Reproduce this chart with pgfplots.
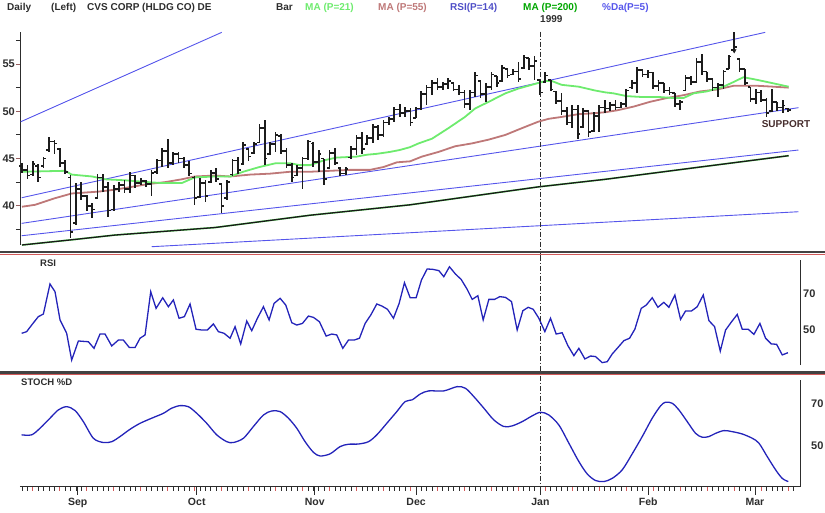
\documentclass[border=0pt]{standalone}
\usepackage{fontspec}
\setmainfont{Liberation Sans}
\usepackage{pgfplots}
\usepackage{pgfplotstable}
\pgfplotsset{compat=1.18}

\definecolor{trend}{RGB}{85,85,235}
\definecolor{maA}{RGB}{110,235,110}
\definecolor{maB}{RGB}{190,120,120}
\definecolor{maC}{RGB}{25,25,25}
\definecolor{osc}{RGB}{35,35,185}
\definecolor{barc}{RGB}{28,28,28}
\definecolor{ink}{RGB}{45,45,45}
\definecolor{divred}{RGB}{210,90,90}
\definecolor{supc}{RGB}{70,45,45}

% day index d: pixel x = 22 + 5.394 d
\pgfplotstableread{
d hi lo op cl
0 44.5 43.5 44.2 43.8
1 44.3 42.8 43.8 43.2
2 44.7 43.1 43.3 44.4
3 44.4 42.5 44.2 43.0
4 45.2 44.0 44.2 45.0
5 47.3 45.7 45.9 46.8
6 47.0 45.5 46.8 46.6
7 46.1 44.1 46.0 44.5
8 44.8 43.4 44.5 43.6
9 43.3 36.6 43.0 37.2
10 42.4 38.0 38.2 41.8
11 42.5 40.6 41.8 41.0
12 41.1 39.5 41.0 40.0
13 40.3 38.7 40.0 39.6
14 43.4 40.7 40.8 43.0
15 43.4 41.5 43.0 42.0
16 42.5 38.8 42.0 39.5
17 42.2 39.5 39.6 41.8
18 42.5 41.5 41.8 42.2
19 42.7 41.3 42.2 41.8
20 43.6 41.3 41.8 43.2
21 43.3 41.9 43.2 42.4
22 42.9 42.2 42.4 42.6
23 42.7 42.0 42.6 42.3
24 43.8 41.0 42.3 43.5
25 45.0 43.4 43.6 44.8
26 46.1 44.1 44.8 45.8
27 47.1 44.0 45.8 44.5
28 45.7 44.3 44.5 45.5
29 45.7 44.5 45.5 45.0
30 45.2 44.0 45.0 44.3
31 44.7 43.1 44.3 43.4
32 43.1 40.1 43.0 40.8
33 42.9 40.8 40.9 42.4
34 42.7 40.4 42.4 41.0
35 43.8 42.4 42.5 43.5
36 44.0 42.5 43.5 42.8
37 42.4 39.2 42.3 40.0
38 42.7 40.6 40.8 42.5
39 45.0 43.2 43.3 44.8
40 45.2 43.4 44.8 43.8
41 46.8 44.3 44.4 46.4
42 46.1 44.7 46.0 45.2
43 46.8 45.5 45.6 46.5
44 48.7 46.6 46.7 48.2
45 49.1 44.3 48.2 45.0
46 46.8 45.4 45.5 46.5
47 47.8 45.7 46.5 47.5
48 47.6 45.5 47.4 45.8
49 46.1 44.0 45.8 44.3
50 44.5 42.5 44.3 43.0
51 44.3 43.1 43.2 44.0
52 45.2 41.8 44.0 45.0
53 47.0 44.8 45.0 46.8
54 46.8 44.1 46.6 44.6
55 45.9 43.6 44.6 45.5
56 45.0 42.2 45.0 42.8
57 45.9 44.0 44.0 45.6
58 46.1 44.3 45.6 44.5
59 44.1 43.1 44.0 43.4
60 44.1 43.3 43.4 43.9
61 46.3 45.0 45.1 46.0
62 47.5 45.4 46.0 47.2
63 47.8 45.5 47.2 46.0
64 47.5 46.4 46.5 47.2
65 48.7 46.6 47.2 48.3
66 48.5 47.0 48.3 47.5
67 49.1 47.3 47.5 48.8
68 49.4 48.5 48.8 49.2
69 50.5 48.9 49.2 50.2
70 50.8 49.4 50.2 49.8
71 50.5 49.4 49.8 50.0
72 50.3 48.4 50.0 48.8
73 50.5 49.3 49.3 50.3
74 52.1 50.1 50.3 51.8
75 52.8 50.7 51.8 52.5
76 53.3 51.7 52.5 53.0
77 53.5 52.2 53.0 52.6
78 53.1 52.2 52.6 52.9
79 53.5 52.4 52.9 53.2
80 53.0 52.1 53.0 52.3
81 52.8 51.7 52.3 52.0
82 52.2 50.3 52.0 50.8
83 52.2 50.1 50.8 52.0
84 54.2 51.5 52.0 53.8
85 53.3 51.4 53.2 51.8
86 53.0 51.0 51.8 52.6
87 54.2 52.2 52.6 53.9
88 53.7 52.6 53.7 53.0
89 54.9 53.1 53.2 54.6
90 54.5 53.5 54.5 53.8
91 54.5 53.8 53.9 54.2
92 55.2 53.1 54.2 53.4
93 56.0 54.5 54.6 55.7
94 55.6 54.4 55.6 54.8
95 55.8 53.3 54.8 55.3
96 53.3 51.7 53.3 52.0
97 54.2 53.0 53.1 53.8
98 53.3 52.1 53.3 52.3
99 52.1 50.8 52.1 51.1
100 51.9 49.6 51.1 50.0
101 50.5 48.5 50.0 48.8
102 50.7 48.2 48.8 50.2
103 50.7 47.1 50.2 47.6
104 50.3 48.2 48.3 50.0
105 50.1 47.3 50.0 47.8
106 49.9 47.8 47.9 49.5
107 50.7 47.8 49.5 50.4
108 51.2 49.8 50.4 50.3
109 51.0 50.0 50.3 50.7
110 51.2 50.1 50.7 50.4
111 51.0 50.3 50.4 50.8
112 52.4 50.5 50.8 52.2
113 53.3 52.4 52.5 53.0
114 54.7 51.9 53.0 54.4
115 54.5 53.6 54.4 53.9
116 54.4 53.5 53.9 54.1
117 54.2 52.4 54.1 52.7
118 53.3 52.1 52.7 53.0
119 53.0 51.9 53.0 52.2
120 52.6 51.7 52.2 52.0
121 51.9 50.5 51.9 50.8
122 51.2 50.1 50.8 51.0
123 53.8 52.1 52.2 53.5
124 53.7 52.8 53.5 53.1
125 55.6 53.0 53.1 55.2
126 56.1 53.8 55.2 54.2
127 54.2 53.1 54.2 53.4
128 53.5 52.1 53.4 52.5
129 53.0 51.5 52.5 52.8
130 54.4 52.4 52.8 54.2
131 56.0 54.5 54.5 55.8
132 58.4 56.3 56.5 56.8
133 55.6 54.2 55.5 54.5
134 54.5 52.8 54.5 53.0
135 52.6 51.0 52.6 51.3
136 52.4 50.8 51.3 52.0
137 52.2 51.0 52.0 51.2
138 51.4 49.4 51.2 49.8
139 52.4 49.9 50.0 51.0
140 51.0 50.0 51.0 50.4
141 51.2 49.8 50.4 50.6
142 50.3 49.9 50.3 50.1
}\bars

\newcommand{\hf}{\fontsize{10}{12}\selectfont\bfseries}
\newcommand{\tf}{\fontsize{11}{12}\selectfont\bfseries}

\pgfplotsset{
  panel/.style={scale only axis, width=780pt, xmin=-0.37, xmax=144.2,
    clip=false, /pgf/number format/assume math mode=true,
    ticklabel style={font=\tf, text=ink},
    axis line style={ink, line width=0.8pt, -}},
  janline/.style={ink, line width=0.7pt, dash pattern=on 5pt off 2pt on 1pt off 2pt},
  tl/.style={trend, line width=0.9pt},
  % invisible main plot; only the error bars are drawn
  barplot/.style={only marks, mark=text, text mark={}},
}

\begin{document}
\begin{tikzpicture}[x=1pt, y=1pt]
\path[use as bounding box] (0,0) rectangle (825,512);

% ===== price panel =====
\begin{axis}[panel, at={(20pt,267pt)}, anchor=south west, height=213.3pt,
  ymin=35.85, ymax=58.42,
  axis x line=none, axis y line*=left,
  ytick={40,45,50,55}, minor ytick={37.5,42.5,47.5,52.5,57.5},
  tick align=outside, major tick length=4pt, minor tick length=4pt,
  major tick style={maB!80!black, line width=0.8pt},
  minor tick style={ink, line width=0.8pt},
  yticklabel style={anchor=east, inner sep=1pt},
]
% trend lines
\addplot[tl] coordinates {(-0.24,48.89) (37.02,58.35)};
\addplot[tl] coordinates {(-0.06,40.85) (137.75,58.35)};
\addplot[tl] coordinates {(-0.06,38.14) (143.92,50.38)};
\addplot[tl] coordinates {(-0.06,36.83) (143.92,45.90)};
\addplot[tl] coordinates {(24.05,35.67) (143.92,39.37)};

% MA 200
\addplot[maA, line width=1.7pt] coordinates {(0,35.85) (9.2,36.4) (17.2,36.9) (26.5,37.3) (35.8,37.7) (53.4,39.0) (71.9,40.1) (95.7,42.0) (108.1,42.8) (125.7,44.1) (142.1,45.3)};
\addplot[maC, line width=1.3pt] coordinates {(0,35.85) (9.2,36.4) (17.2,36.9) (26.5,37.3) (35.8,37.7) (53.4,39.0) (71.9,40.1) (95.7,42.0) (108.1,42.8) (125.7,44.1) (142.1,45.3)};

% MA 55
\addplot[maB, line width=1.8pt] coordinates {
(0,39.9) (2.4,40.1) (6.1,40.8) (9.2,41.3) (14.2,41.5) (17.2,41.7) (20.3,42.0)
(23.4,42.3) (26.5,42.5) (29.6,42.8) (32,43.1) (35.8,43.2) (38.6,43.1) (42.3,43.3)
(46,43.4) (49.7,43.6) (53.4,43.6) (57.1,43.7) (60.8,43.8) (64.5,43.8) (67,44.1)
(69.5,44.6) (71.9,44.7) (74.1,45.2) (77.2,45.7) (80.3,46.3) (83.4,46.6) (86.5,47.0)
(89.6,47.5) (92.6,48.2) (95.7,48.9) (97.6,49.2) (100,49.4) (103.2,49.7) (106.2,49.8)
(108.1,49.9) (110.3,50.1) (113.4,50.5) (116.4,51.0) (119.5,51.4) (122.6,51.7)
(125.7,52.1) (128.8,52.3) (131.9,52.7) (133.7,52.7) (136.2,52.7) (139.3,52.6) (142.1,52.5)};

% MA 21
\addplot[maA, line width=1.8pt] coordinates {
(0,43.6) (8,43.7) (9.2,43.3) (13,43.1) (15.4,42.8) (19,42.7) (23.4,42.5) (26,42.4)
(29.6,42.4) (30.8,42.7) (32,43.0) (35.8,43.1) (38.6,43.1) (41,43.6) (44,44.1) (47,44.5)
(49.7,44.5) (51.5,44.3) (53.4,44.3) (55.9,44.8) (58.3,45.1) (62,45.2) (63.9,45.4)
(65.8,45.5) (68.2,45.7) (70,45.9) (71.9,46.2) (73.5,46.6) (76,47.1) (79,48.2) (82.1,49.4)
(84,50.3) (86.5,51.0) (89.6,51.9) (92,52.4) (94.5,52.8) (97,53.2) (98.2,53.2) (100,52.8)
(103.2,52.6) (106.2,52.2) (108.1,52.0) (109.6,51.9) (112.1,51.6) (115.2,51.5) (118.3,51.5)
(120.8,51.4) (122.6,51.4) (124.5,51.9) (126.9,52.1) (130,52.6) (131.9,53.1) (133.7,53.6)
(135.6,53.4) (138.1,53.1) (140.5,52.8) (142.1,52.6)};

% price bars: high-low with close tick on the right, open tick on the left
\addplot[barplot,
  error bars/.cd, y dir=both, y explicit, x dir=plus, x fixed=0.5,
  error mark=none, error bar style={barc, line width=1.7pt}]
  table[x=d, y=cl, y error plus expr=\thisrow{hi}-\thisrow{cl},
        y error minus expr=\thisrow{cl}-\thisrow{lo}] {\bars};
\addplot[barplot,
  error bars/.cd, x dir=minus, x fixed=0.5,
  error mark=none, error bar style={barc, line width=1.7pt}]
  table[x=d, y=op] {\bars};
\addplot[barc, only marks, mark=triangle*, mark size=2.2pt,
  mark options={rotate=180}] coordinates {(132,56.4)};

\addplot[janline] coordinates {(96.09,58.42) (96.09,34.7)};
\node[font=\hf, text=supc] at (axis cs:141.6,48.7) {SUPPORT};
\end{axis}

% ===== RSI panel =====
\begin{axis}[panel, at={(20pt,147pt)}, anchor=south west, height=105pt,
  ymin=30.9, ymax=88.2,
  axis x line=none, axis y line*=right,
  ytick={50,70}, major tick length=0pt,
  yticklabel style={anchor=west, inner sep=1pt, xshift=2pt},
]
\addplot[osc, line width=1.3pt] coordinates {
(-0.06,48.2) (0.87,49.1) (1.79,52.7) (3.03,57.3) (3.96,58.7) (5.19,75.1) (6.12,70.9)
(7.05,55.5) (8.28,48.2) (9.21,33.6) (10.45,44.0) (12.30,43.6) (13.35,40.0) (14.46,47.8)
(15.39,47.8) (16.63,41.3) (17.86,44.5) (18.79,44.5) (19.90,40.4) (20.95,40.4) (21.88,45.5)
(22.81,47.3) (23.86,70.9) (24.85,61.8) (26.08,67.6) (27.13,62.7) (28.06,66.4) (29.11,56.4)
(30.10,57.3) (31.15,64.2) (32.26,50.4) (33.31,50.0) (34.36,50.0) (35.48,53.3) (36.40,49.1)
(37.45,48.2) (38.57,45.5) (39.49,51.8) (40.54,42.4) (41.66,54.9) (42.58,49.6) (43.63,56.4)
(44.75,62.7) (45.80,55.5) (46.72,64.5) (47.84,67.3) (48.89,63.6) (50.00,54.0) (50.93,52.7)
(51.98,53.6) (53.09,57.6) (54.02,56.9) (55.13,54.5) (56.37,46.7) (57.42,47.8) (58.34,47.3)
(59.46,40.0) (60.51,44.5) (61.56,44.5) (62.55,45.5) (63.60,53.6) (64.65,58.2) (65.76,64.2)
(66.69,63.1) (67.74,61.3) (68.85,56.4) (69.90,64.5) (70.89,75.8) (71.94,67.6) (73.05,67.6)
(74.04,77.3) (75.09,83.3) (76.14,83.1) (77.26,82.4) (78.18,79.1) (79.23,84.5) (80.35,80.5)
(81.40,77.6) (82.51,72.2) (83.44,66.7) (84.49,68.7) (85.48,55.5) (86.53,66.7) (87.58,66.7)
(88.57,68.2) (89.62,67.8) (90.73,65.5) (91.78,50.0) (92.83,60.5) (93.82,62.4) (94.75,61.3)
(95.80,56.4) (96.91,49.1) (97.96,56.4) (99.01,47.8) (100.12,48.5) (101.17,41.5) (102.29,36.0)
(103.21,40.0) (104.33,34.2) (105.38,35.8) (106.30,35.5) (107.54,32.2) (108.47,32.7)
(109.39,36.9) (110.44,40.4) (111.56,44.2) (112.61,45.5) (113.60,50.5) (114.77,61.8)
(115.70,63.6) (116.81,67.6) (117.86,62.4) (118.97,65.1) (119.90,62.4) (121.01,69.1)
(122.06,55.8) (122.99,60.4) (124.10,60.4) (125.15,62.7) (126.27,69.1) (127.32,55.1)
(128.37,51.8) (129.42,38.5) (130.41,50.0) (131.52,54.5) (132.57,58.5) (133.50,50.4)
(134.61,50.4) (135.66,47.6) (136.77,53.6) (137.82,45.5) (138.88,42.4) (139.86,42.2)
(140.91,36.4) (141.97,37.6)};
\addplot[janline] coordinates {(96.09,90.4) (96.09,24.9)};
\end{axis}

% ===== Stochastic %D panel =====
\begin{axis}[panel, at={(20pt,25.3pt)}, anchor=south west, height=106.7pt,
  ymin=30.9, ymax=80.9,
  axis x line*=bottom, axis y line*=right,
  ytick={50,70}, ytick style={draw=none},
  yticklabel style={anchor=west, inner sep=1pt, xshift=2pt},
  xtick={10.34,32.39,54.26,73.04,96.09,116.06,135.84},
  xticklabels={Sep,Oct,Nov,Dec,Jan,Feb,Mar},
  minor xtick={0,1,...,143},
  tick align=outside, major tick length=8pt, minor tick length=4pt,
  xtick style={ink, line width=0.8pt}, minor x tick style={ink, line width=0.7pt},
  extra x ticks={2,7,...,142},
  extra x tick labels={},
  extra x tick style={major tick length=4pt, xtick style={divred, line width=0.8pt}},
  xticklabel style={font=\fontsize{10.5}{12}\selectfont\bfseries, text=ink},
]
\addplot[osc, line width=1.3pt, smooth] coordinates {
(-0.06,55.2) (1.79,55.2) (3.34,58.3) (5.19,63.0) (6.74,66.9) (8.28,68.4) (9.83,66.6)
(11.37,61.4) (13.23,53.6) (15.08,51.6) (16.63,52.0) (18.17,54.4) (20.02,57.8) (21.88,60.6)
(24.04,63.0) (26.21,65.3) (27.75,67.7) (29.30,68.9) (30.84,68.4) (32.39,65.3) (34.24,60.6)
(36.09,55.2) (37.95,52.0) (39.18,51.6) (41.04,53.6) (42.89,59.1) (44.75,64.5) (46.29,66.4)
(47.84,66.1) (49.38,63.0) (50.93,58.3) (52.47,52.0) (54.02,47.0) (55.25,45.3) (57.11,46.3)
(58.96,49.7) (60.51,50.8) (62.36,50.9) (64.22,52.0) (65.76,55.2) (67.61,60.6) (69.47,66.1)
(71.01,70.8) (72.31,71.6) (73.86,74.4) (75.40,75.8) (78.18,75.8) (80.66,77.8) (82.20,77.0)
(83.75,73.1) (85.60,67.7) (87.45,62.2) (89.31,59.1) (90.85,59.4) (92.71,61.4) (94.56,64.1)
(96.11,65.8) (97.65,64.5) (99.51,59.8) (101.36,51.3) (103.21,42.7) (104.76,36.9)
(106.30,33.8) (107.85,33.3) (109.39,34.8) (111.25,38.8) (113.10,46.3) (114.96,54.4)
(116.81,63.0) (118.36,68.8) (119.28,70.5) (120.52,70.0) (121.75,66.9) (123.30,61.4)
(124.85,55.9) (126.08,54.1) (127.32,54.4) (128.55,55.9) (130.10,57.2) (131.64,56.7)
(133.50,55.6) (135.35,53.6) (136.59,51.3) (138.13,45.0) (139.68,38.8) (140.91,34.8) (142.03,33.3)};
\addplot[janline] coordinates {(96.09,82.8) (96.09,30.9)};
\end{axis}

% panel dividers
\draw[ink!90, line width=2.3pt] (0,259.8) -- (825,259.8);
\draw[divred, line width=1pt] (0,257.6) -- (825,257.6);
\draw[ink!90, line width=2.5pt] (0,139.3) -- (825,139.3);
\draw[divred, line width=1pt] (0,137.4) -- (825,137.4);

% header
\begin{scope}[every node/.style={anchor=base west, inner sep=0pt, font=\hf}]
\node[text=ink] at (7,501) {Daily};
\node[text=ink] at (51,501) {(Left)};
\node[text=ink] at (87,501) {CVS CORP (HLDG CO) DE};
\node[text=ink] at (276,501) {Bar};
\node[text=maA] at (305,501) {MA (P=21)};
\node[text=maB] at (378,501) {MA (P=55)};
\node[text=osc!80!white] at (450,501) {RSI(P=14)};
\node[text=green!65!black] at (523,501) {MA (P=200)};
\node[text=trend] at (602,501) {\%Da(P=5)};
\node[text=ink] at (540,489) {1999};
\node[text=ink, font=\fontsize{9.5}{11}\selectfont\bfseries] at (40,245) {RSI};
\node[text=ink, font=\fontsize{9.5}{11}\selectfont\bfseries] at (21,127) {STOCH \%D};
\end{scope}
\end{tikzpicture}
\end{document}
